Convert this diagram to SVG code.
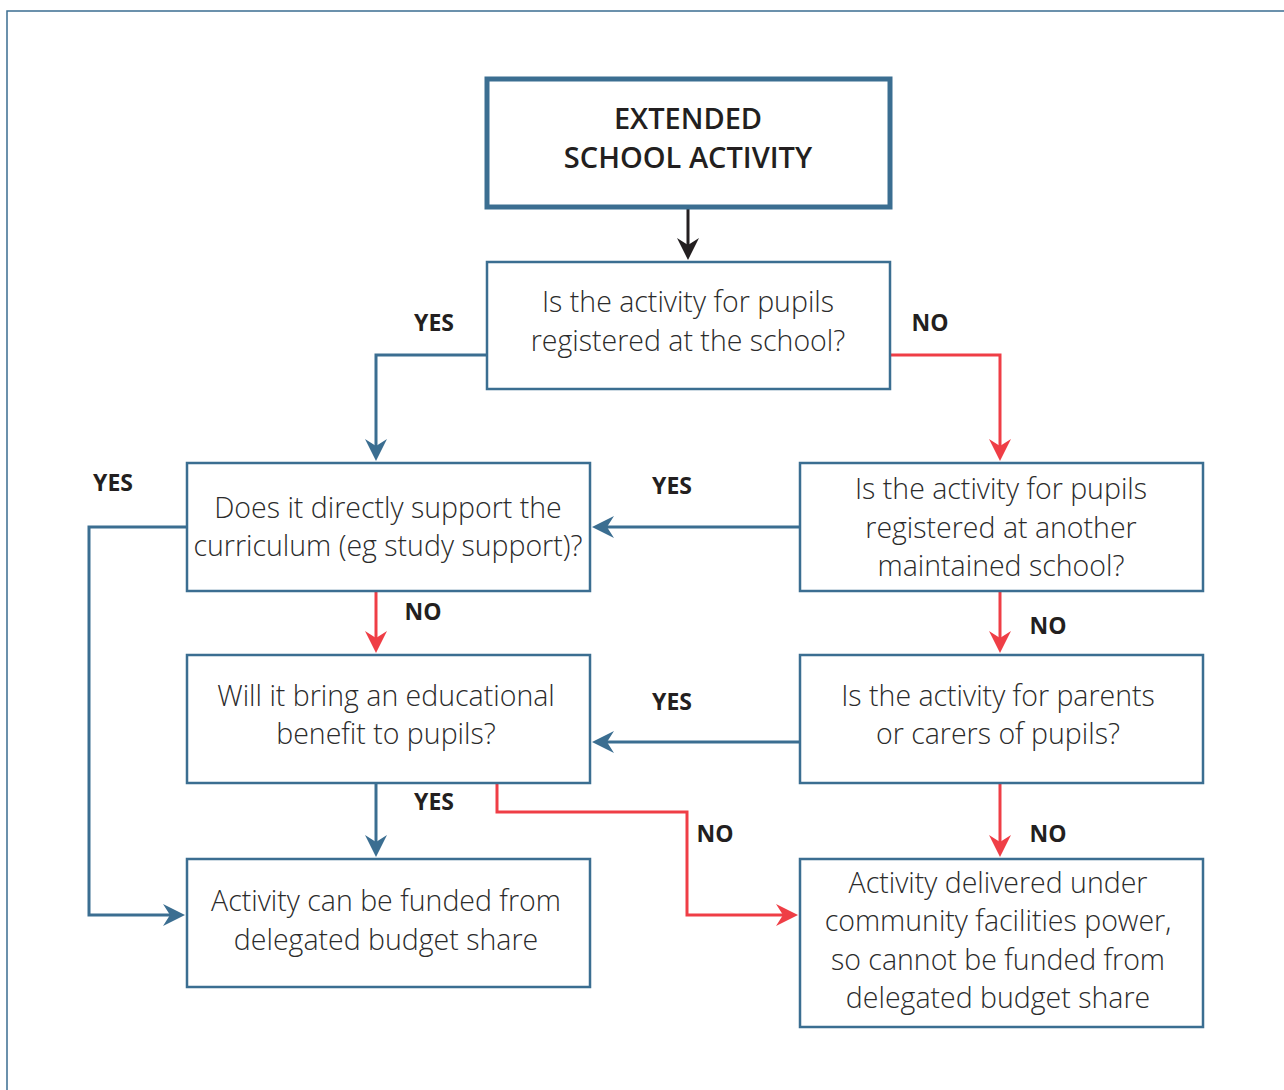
<svg xmlns="http://www.w3.org/2000/svg" width="1284" height="1090" viewBox="0 0 1284 1090">
<style>
.box{fill:#fff;stroke:#3b6e91;stroke-width:2.5}
.top{fill:#fff;stroke:#3b6e91;stroke-width:5}
.t{font-family:"Open Sans","Liberation Sans",sans-serif;font-weight:300;font-size:28.5px;fill:#2b2b2b;text-anchor:middle}
.h{font-family:"Open Sans","Liberation Sans",sans-serif;font-weight:600;font-size:29px;fill:#231f20;text-anchor:middle}
.l{font-family:"Open Sans","Liberation Sans",sans-serif;font-weight:700;font-size:23px;fill:#231f20;text-anchor:middle}
.b{fill:none;stroke:#3b6e91;stroke-width:3}
.r{fill:none;stroke:#ef3e46;stroke-width:3}
.k{fill:none;stroke:#231f20;stroke-width:3}
</style>
<rect x="7" y="11" width="1290" height="1090" fill="none" stroke="#3b6e91" stroke-width="1.5"/>
<g id="connectors">
<path class="k" d="M688,207 V248"/><path d="M677,238 L688,260 L699,238 L688,245 Z" fill="#231f20"/>
<path class="b" d="M487,355 H376 V448"/><path d="M365,439 L376,461 L387,439 L376,446 Z" fill="#3b6e91"/>
<path class="r" d="M890,355 H1000 V448"/><path d="M989,439 L1000,461 L1011,439 L1000,446 Z" fill="#ef3e46"/>
<path class="b" d="M800,527 H605"/><path d="M614,516 L592,527 L614,538 L607,527 Z" fill="#3b6e91"/>
<path class="b" d="M187,527 H89 V915 H172"/><path d="M163,904 L185,915 L163,926 L170,915 Z" fill="#3b6e91"/>
<path class="r" d="M376,591 V640"/><path d="M365,631 L376,653 L387,631 L376,638 Z" fill="#ef3e46"/>
<path class="r" d="M1000,591 V640"/><path d="M989,631 L1000,653 L1011,631 L1000,638 Z" fill="#ef3e46"/>
<path class="b" d="M800,742 H605"/><path d="M614,731 L592,742 L614,753 L607,742 Z" fill="#3b6e91"/>
<path class="b" d="M376,783 V844"/><path d="M365,835 L376,857 L387,835 L376,842 Z" fill="#3b6e91"/>
<path class="r" d="M497,783 V812 H687 V915 H785"/><path d="M776,904 L798,915 L776,926 L783,915 Z" fill="#ef3e46"/>
<path class="r" d="M1000,783 V844"/><path d="M989,835 L1000,857 L1011,835 L1000,842 Z" fill="#ef3e46"/>
</g>
<g id="labels">
<text class="l" x="434" y="331">YES</text>
<text class="l" x="930" y="331">NO</text>
<text class="l" x="113" y="491">YES</text>
<text class="l" x="672" y="494">YES</text>
<text class="l" x="423" y="620">NO</text>
<text class="l" x="1048" y="634">NO</text>
<text class="l" x="672" y="710">YES</text>
<text class="l" x="434" y="810">YES</text>
<text class="l" x="715" y="842">NO</text>
<text class="l" x="1048" y="842">NO</text>
</g>
<g id="n-start"><rect class="top" x="487" y="79" width="403" height="128"/>
<text class="h" x="688" y="129">EXTENDED</text><text class="h" x="688" y="168">SCHOOL ACTIVITY</text></g>
<g id="n-q1"><rect class="box" x="487" y="262" width="403" height="127"/>
<text class="t" x="688" y="312">Is the activity for pupils</text><text class="t" x="688" y="351">registered at the school?</text></g>
<g id="n-curr"><rect class="box" x="187" y="463" width="403" height="128"/>
<text class="t" x="388" y="518">Does it directly support the</text><text class="t" x="388" y="556">curriculum (eg study support)?</text></g>
<g id="n-other"><rect class="box" x="800" y="463" width="403" height="128"/>
<text class="t" x="1001" y="499">Is the activity for pupils</text><text class="t" x="1001" y="538">registered at another</text><text class="t" x="1001" y="576">maintained school?</text></g>
<g id="n-edu"><rect class="box" x="187" y="655" width="403" height="128"/>
<text class="t" x="386" y="706">Will it bring an educational</text><text class="t" x="386" y="744">benefit to pupils?</text></g>
<g id="n-parents"><rect class="box" x="800" y="655" width="403" height="128"/>
<text class="t" x="998" y="706">Is the activity for parents</text><text class="t" x="998" y="744">or carers of pupils?</text></g>
<g id="n-funded"><rect class="box" x="187" y="859" width="403" height="128"/>
<text class="t" x="386" y="911">Activity can be funded from</text><text class="t" x="386" y="950">delegated budget share</text></g>
<g id="n-community"><rect class="box" x="800" y="859" width="403" height="168"/>
<text class="t" x="998" y="893">Activity delivered under</text><text class="t" x="998" y="931">community facilities power,</text><text class="t" x="998" y="970">so cannot be funded from</text><text class="t" x="998" y="1008">delegated budget share</text></g>
</svg>
